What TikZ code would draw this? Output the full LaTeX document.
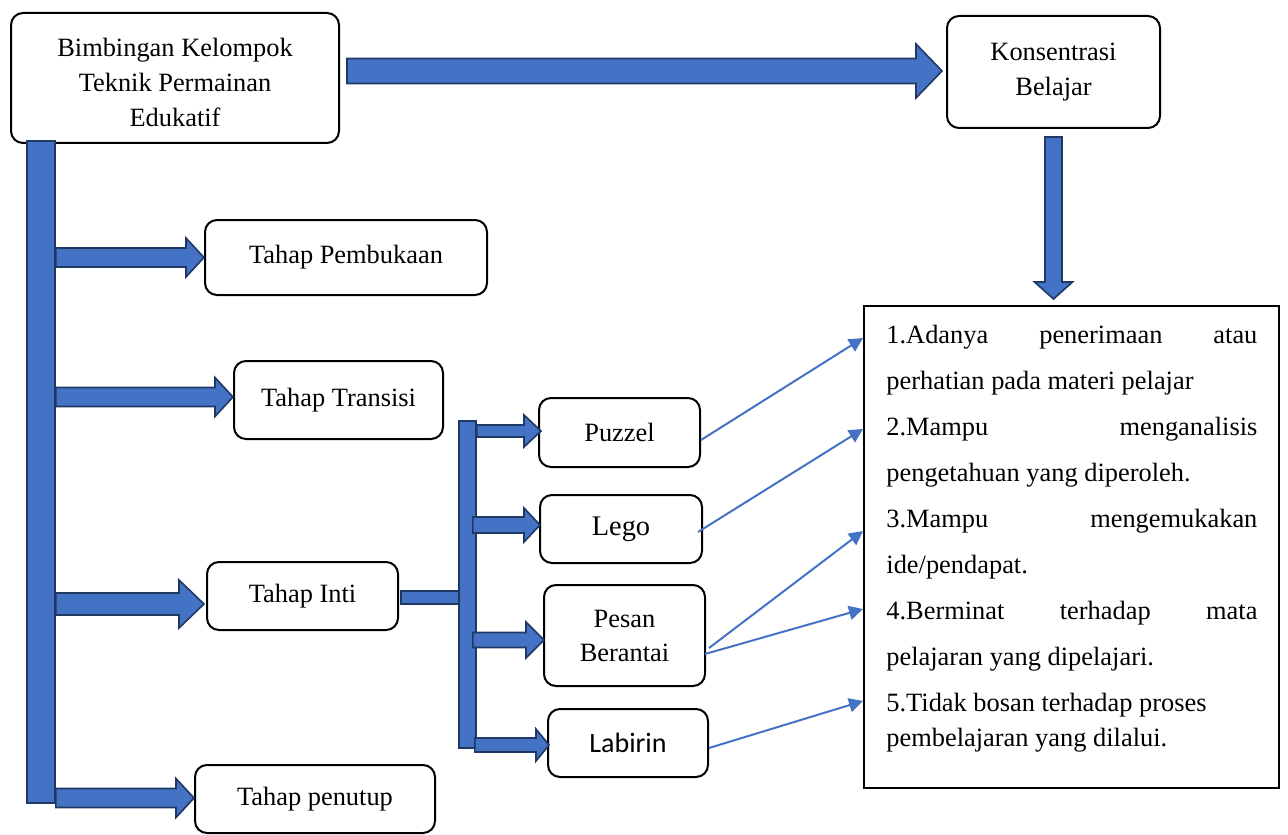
\documentclass[tikz,border=0pt]{standalone}
\usepackage{fontspec}
\setmainfont{Liberation Serif}
\newfontfamily\calib{Carlito}
\usetikzlibrary{calc,arrows.meta}
\definecolor{fillblue}{HTML}{4472C4}
\definecolor{edgeblue}{HTML}{1F3864}
\definecolor{lineblue}{HTML}{4472C4}
\tikzset{
  box/.style={draw=black, line width=1pt, rounded corners=6pt, fill=white, align=center, inner sep=0pt,
    font=\fontsize{13.2}{17.5}\selectfont},
  blockarrow/.style={fill=fillblue, draw=edgeblue, line width=0.8pt, line join=miter},
  barbox/.style={fill=fillblue, draw=edgeblue, line width=0.8pt, inner sep=0pt, rectangle},
  conn/.style={draw=lineblue, line width=1pt, -{Triangle[length=7pt,width=7pt]}},
}
% horizontal block arrow: start x from #1, tip at #2, shaft half, head half, head length
\newcommand\blockR[5]{\draw[blockarrow] let \p1=(#1), \p2=(#2) in
  (\x1,\y2+#3) -- (\x2-#5,\y2+#3) -- (\x2-#5,\y2+#4) -- (\x2,\y2) -- (\x2-#5,\y2-#4)
  -- (\x2-#5,\y2-#3) -- (\x1,\y2-#3) -- cycle;}
% downward block arrow: start y from #1, tip at #2
\newcommand\blockD[5]{\draw[blockarrow] let \p1=(#1), \p2=(#2) in
  (\x2-#3,\y1) -- (\x2-#3,\y2+#5) -- (\x2-#4,\y2+#5) -- (\x2,\y2) -- (\x2+#4,\y2+#5)
  -- (\x2+#3,\y2+#5) -- (\x2+#3,\y1) -- cycle;}
\begin{document}
\begin{tikzpicture}[x=0.5pt,y=-0.5pt]
\useasboundingbox (0,0) rectangle (1288,834);

% nodes
\node[box, minimum width=164pt, minimum height=65pt] (main) at (175,78) {};
\node[align=center, inner sep=0pt, font=\fontsize{13.2}{17.5}\selectfont] (maintext) at (175,82)
  {Bimbingan Kelompok\\Teknik Permainan\\Edukatif};
\node[box, minimum width=106.5pt, minimum height=56pt] (kons) at (1053.5,72)
  {Konsentrasi\\Belajar};
\node[box, minimum width=141pt, minimum height=37.5pt] (pemb) at (346,257.5) {Tahap Pembukaan};
\node[box, minimum width=104.5pt, minimum height=39pt] (trans) at (338.5,400) {Tahap Transisi};
\node[box, minimum width=95.5pt, minimum height=34pt] (inti) at (302.5,596) {Tahap Inti};
\node[box, minimum width=120pt, minimum height=34pt] (pen) at (315,799) {Tahap penutup};
\node[box, minimum width=80.5pt, minimum height=34.5pt] (puz) at (619.5,432.5) {Puzzel};
\node[box, minimum width=81pt, minimum height=34pt, font=\fontsize{14.2}{17}\selectfont] (lego) at (621,529) {Lego};
\node[box, minimum width=80.5pt, minimum height=50.5pt, font=\fontsize{13.2}{17}\selectfont] (pes) at (624.5,635.5) {Pesan\\Berantai};
\node[box, minimum width=80pt, minimum height=34pt, font=\calib\fontsize{14}{17}\selectfont] (lab) at (628,743) {Labirin};
\node[draw=black, line width=1pt, fill=white, minimum width=207.5pt, minimum height=241pt, inner sep=0pt]
  (ind) at (1071.5,547) {};
\node[anchor=base west, inner sep=0pt] (indtext) at (886,343) {\parbox[t]{185.5pt}{%
  \fontsize{13.2}{23}\selectfont
  1.Adanya\hfill penerimaan\hfill atau\\
  perhatian pada materi pelajar\\
  2.Mampu\hfill menganalisis\\
  pengetahuan yang diperoleh.\\
  3.Mampu\hfill mengemukakan\\
  ide/pendapat.\\
  4.Berminat\hfill terhadap\hfill mata\\
  pelajaran yang dipelajari.\\
  5.Tidak bosan terhadap proses\\[-5.5pt]
  pembelajaran yang dilalui.}};

% main horizontal block arrow
\blockR{$(main.east)+(7,0)$}{$(kons.west)+(-4,-1)$}{6.25pt}{13.5pt}{13pt}
% downward block arrow
\blockD{$(kons.south)+(0,8)$}{$(kons.south |- ind.north)+(0,-6)$}{4.25pt}{9.5pt}{8.5pt}

% spine
\node[barbox, minimum width=14pt, minimum height=331pt] (spine) at (41,472) {};
\blockR{spine.east}{pemb.west}{4.75pt}{9.75pt}{9pt}
\blockR{spine.east}{$(trans.west)+(0,-3)$}{4.75pt}{9.75pt}{9pt}
\blockR{spine.east}{$(inti.west)+(-2,8)$}{5.5pt}{12pt}{12.5pt}
\blockR{spine.east}{$(pen.west)+(0,-1)$}{4.75pt}{9.75pt}{9pt}

% middle bracket
\draw[blockarrow] ($(inti.east)+(2,-5)$) coordinate (ic1) rectangle ($(inti.east)+(62,8)$) coordinate (ic2);
\node[barbox, minimum width=8.5pt, minimum height=163.5pt] (mbar) at (467.5,584.5) {};
\blockR{mbar.east}{$(puz.west)+(3,-1.5)$}{3pt}{8pt}{8.5pt}
\blockR{$(mbar.east)+(-4,0)$}{$(lego.west)+(1,-4)$}{4pt}{8.5pt}{8pt}
\blockR{$(mbar.east)+(-4,0)$}{$(pes.west)+(1,4.5)$}{3.75pt}{9pt}{9pt}
\blockR{$(mbar.east)+(-2,0)$}{$(lab.west)+(2,2)$}{3.5pt}{8pt}{6.5pt}

% thin connectors
\draw[conn] ($(puz.east)+(0,7.5)$) -- ($(ind.north west)+(0,33)$);
\draw[conn] ($(lego.east)+(-5,3)$) -- ($(ind.north west)+(0,124)$);
\draw[conn] ($(pes.east)+(3,12.5)$) -- ($(ind.north west)+(0,226)$);
\draw[conn] ($(pes.east)+(-1,18.5)$) -- ($(ind.north west)+(0,304)$);
\draw[conn] ($(lab.east)+(0,5)$) -- ($(ind.north west)+(0,396)$);
\end{tikzpicture}
\end{document}
